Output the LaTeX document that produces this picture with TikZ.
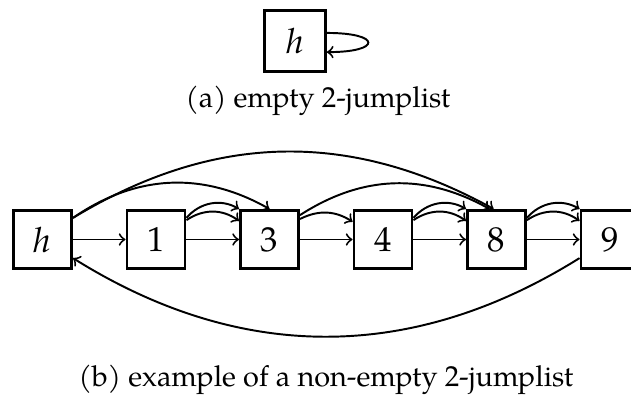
\documentclass[tikz,border=0pt]{standalone}
\usepackage{fontspec}
\setmainfont{TeX Gyre Pagella}
\begin{document}
\begin{tikzpicture}[x=0.36pt,y=-0.36pt,
  box/.style={draw,line width=0.95pt,minimum size=21pt,inner sep=0pt,font=\fontsize{12.5}{15}\selectfont},
  arr/.style={->,line width=0.7pt},
  captext/.style={font=\fontsize{10.4}{12.5}\selectfont}]
\useasboundingbox (0,0) rectangle (631,407);
% (a)
\node[box,minimum size=22pt] (h0) at (295,41) {\itshape h};
\node[captext] (capa) at (318,101) {(a) empty 2-jumplist};
\draw[arr] ([yshift=2.9pt]h0.east) .. controls +(55,0) and +(55,0) .. ([yshift=-4pt]h0.east);
% (b)
\node[box] (h) at (42.5,239.5) {\itshape h};
\node[box] (n1) at (156,239.5) {1};
\node[box] (n3) at (269.5,239.5) {3};
\node[box] (n4) at (383,239.5) {4};
\node[box] (n8) at (496.5,239.5) {8};
\node[box] (n9) at (610,239.5) {9};
\node[captext] (capb) at (326,380) {(b) example of a non-empty 2-jumplist};
% next pointers
\draw[arr] (h) -- (n1);
\draw[arr] (n1) -- (n3);
\draw[arr] (n3) -- (n4);
\draw[arr] (n4) -- (n8);
\draw[arr] (n8) -- (n9);
% long jumps
\draw[arr] ([yshift=-3.2pt]h.north east) to[bend left=32] (n3.north);
\draw[arr] ([yshift=-3.2pt]h.north east) to[bend left=30] ([xshift=-1pt]n8.north);
\draw[arr] ([yshift=-2.2pt]n3.north east) to[bend left=31] ([xshift=-2.5pt]n8.north);
% short jumps
\foreach \a/\b in {n1/n3,n4/n8,n8/n9}{
  \draw[arr] ([yshift=-3.2pt]\a.north east) to[bend left=40] (\b.north west);
  \draw[arr] ([yshift=-4pt]\a.north east) to[bend left=35] ([yshift=-4.3pt]\b.north west);
}
\draw[arr] ([yshift=-3.6pt]n3.north east) to[bend left=30] ([yshift=-4.6pt]n4.north west);
% back pointer
\draw[arr] ([yshift=-6.7pt]n9.west) to[bend left=32] ([yshift=-6.7pt]h.east);
\end{tikzpicture}
\end{document}
